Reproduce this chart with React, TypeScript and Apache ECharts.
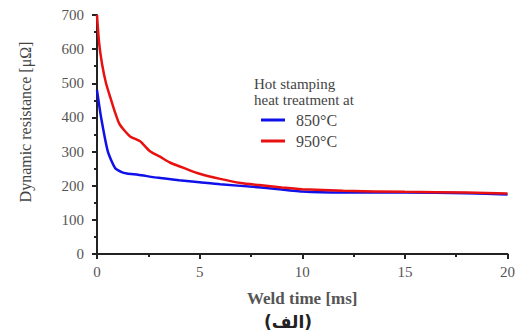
import React, { useEffect, useRef } from "react";
import * as echarts from "echarts";

const redX = [0, 0.1, 0.25, 0.44, 0.63, 0.85, 1.1, 1.6, 2.1, 2.6, 3.07, 3.55, 4.4, 5, 6, 7, 7.9, 9, 10, 12, 15, 18, 20];
const redY = [700, 620, 555, 500, 462, 420, 380, 345, 330, 300, 285, 268, 248, 235, 220, 208, 202, 195, 190, 185, 182, 180, 177];
const blueX = [0, 0.2, 0.53, 0.88, 1.2, 1.46, 2, 3, 4, 5, 6, 8, 10, 12, 15, 18, 20];
const blueY = [480, 400, 300, 252, 240, 236, 232, 223, 216, 210, 204, 195, 183, 180, 180, 178, 174];
const seriesNames = ["850°C", "950°C"];
const legendTitle = ["Hot stamping", "heat treatment at"];
const xTitle = "Weld time [ms]";
const yTitle = "Dynamic resistance [μΩ]";
const caption = "(الف)";

const FONT = "'Liberation Serif', serif";

export default function App() {
  const ref = useRef<HTMLDivElement>(null);
  useEffect(() => {
    const chart = echarts.init(ref.current!, null, { renderer: "svg" });
    chart.setOption({
      animation: false,
      backgroundColor: "#fff",
      grid: { left: 97, right: 10, top: 15, bottom: 79 },
      xAxis: {
        type: "value",
        min: 0,
        max: 20,
        interval: 5,
        name: xTitle,
        nameLocation: "middle",
        nameGap: 36,
        nameTextStyle: { fontFamily: FONT, fontSize: 17, fontWeight: "bold", color: "#555" },
        axisLine: { lineStyle: { color: "#222", width: 2 } },
        axisTick: { show: true, lineStyle: { color: "#222", width: 2 }, length: 5 },
        minorTick: { show: true, splitNumber: 2, length: 3, lineStyle: { color: "#222", width: 2 } },
        splitLine: { show: false },
        axisLabel: { fontFamily: FONT, fontSize: 15, color: "#555", margin: 10 },
      },
      yAxis: {
        type: "value",
        min: 0,
        max: 700,
        interval: 100,
        axisLine: { show: true, lineStyle: { color: "#222", width: 2 } },
        axisTick: { show: true, lineStyle: { color: "#222", width: 2 }, length: 5 },
        minorTick: { show: true, splitNumber: 2, length: 3, lineStyle: { color: "#222", width: 2 } },
        splitLine: { show: false },
        axisLabel: { fontFamily: FONT, fontSize: 15, color: "#555", margin: 13 },
      },
      legend: {
        orient: "vertical",
        left: 256,
        top: 107,
        itemWidth: 24,
        itemHeight: 3,
        itemGap: 5,
        icon: "rect",
        textStyle: { fontFamily: FONT, fontSize: 16, color: "#444", padding: [0, 0, 0, 6] },
        data: seriesNames,
      },
      graphic: [
        {
          type: "text",
          left: 254,
          top: 76,
          style: { text: legendTitle.join("\n"), fontFamily: FONT, fontSize: 15, lineHeight: 16, fill: "#444" },
        },
        {
          type: "text",
          x: 25,
          y: 122,
          rotation: Math.PI / 2,
          style: { text: yTitle, fontFamily: FONT, fontSize: 16, fill: "#444", align: "center", verticalAlign: "middle" },
        },
        {
          type: "text",
          x: 288,
          y: 322,
          style: { text: caption, fontFamily: "'DejaVu Sans', sans-serif", fontWeight: "bold", fontSize: 17, fill: "#222", align: "center", verticalAlign: "middle" },
        },
      ],
      series: [
        {
          name: seriesNames[0],
          type: "line",
          showSymbol: false,
          smooth: 0.2,
          lineStyle: { color: "#1010e8", width: 2.5 },
          itemStyle: { color: "#1010e8" },
          data: blueX.map((x, i) => [x, blueY[i]]),
          z: 2,
        },
        {
          name: seriesNames[1],
          type: "line",
          showSymbol: false,
          smooth: 0.2,
          lineStyle: { color: "#e81010", width: 2.5 },
          itemStyle: { color: "#e81010" },
          data: redX.map((x, i) => [x, redY[i]]),
          z: 3,
        },
      ],
    });
    return () => chart.dispose();
  }, []);
  return <div ref={ref} style={{ width: 518, height: 333, position: "absolute", left: 0, top: 0 }} />;
}
